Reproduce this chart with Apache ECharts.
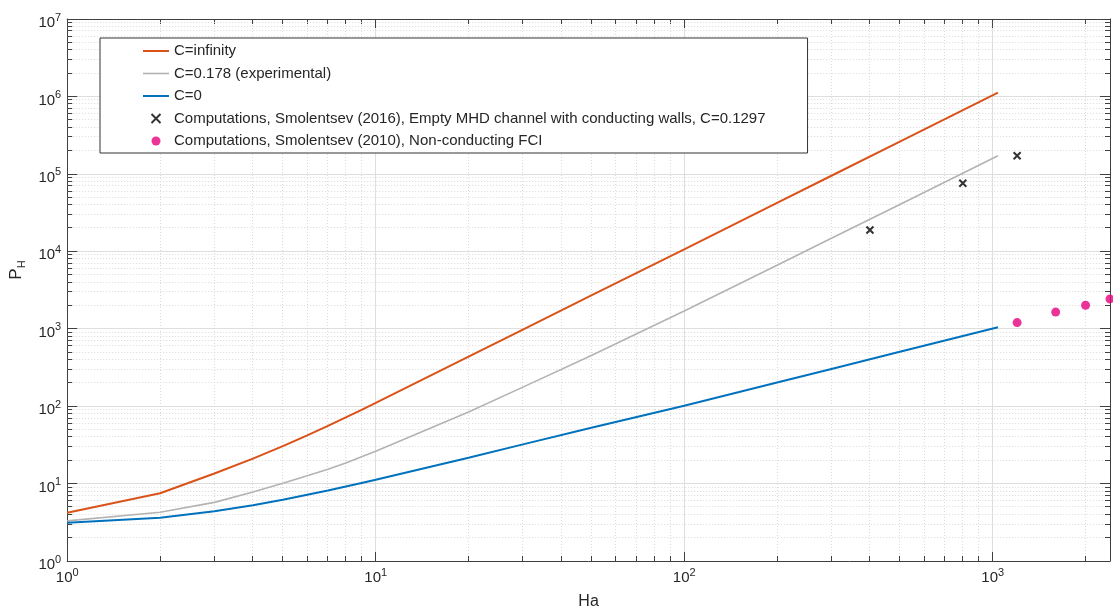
<!DOCTYPE html>
<html>
<head>
<meta charset="utf-8">
<script src="https://cdn.jsdelivr.net/npm/echarts@6/dist/echarts.min.js"></script>
<style>
  html, body { margin: 0; padding: 0; background: #ffffff; }
  #chart { width: 1113px; height: 615px; }
</style>
</head>
<body>
<div id="chart"></div>
<script>
// Hartmann number samples for the analytic curves
const haValues = [1, 2, 3, 4, 5, 6, 7, 8, 9, 10, 20, 30, 50, 100, 200, 300, 500, 1040];
// P_H for perfectly conducting walls
const pInfinity = [4.2, 7.5, 13.5, 21, 30.5, 42, 55.5, 71.5, 89.5, 110, 435, 975, 2700, 10600, 42200, 94500, 261000, 1120000];
// P_H for the experimental wall conductance ratio
const pExperimental = [3.3, 4.26, 5.72, 7.77, 10.1, 12.6, 15.3, 18.5, 22.2, 26.2, 84, 176, 450, 1690, 6600, 14700, 40300, 171000];
// P_H for insulating walls
const pInsulating = [3.12, 3.62, 4.39, 5.24, 6.19, 7.17, 8.14, 9.16, 10.2, 11.2, 21.5, 32.1, 52.5, 101, 202, 302, 503, 1042];

// Computations, empty channel with conducting walls
const haConducting = [400, 800, 1200];
const pConducting = [18800, 75700, 171000];

// Computations, non-conducting FCI
const haFci = [1200, 1600, 2000, 2400];
const pFci = [1200, 1640, 2010, 2420];

const seriesNames = [
  'C=infinity',
  'C=0.178 (experimental)',
  'C=0',
  'Computations, Smolentsev (2016), Empty MHD channel with conducting walls, C=0.1297',
  'Computations, Smolentsev (2010), Non-conducting FCI'
];

// Axis ranges
const xRange = [1, 2400];
const yRange = [1, 1e7];

// Minor tick positions (2..9 within each decade)
const xMinorTicks = [];
for (let d = 1; d <= 1000; d *= 10) {
  for (let m = 2; m <= 9; m++) {
    const v = m * d;
    if (v < xRange[1]) xMinorTicks.push(v);
  }
}
const yMinorTicks = [];
for (let d = 1; d < 1e7; d *= 10) {
  for (let m = 2; m <= 9; m++) yMinorTicks.push(m * d);
}

const FONT = '"Liberation Sans", Arial, Helvetica, sans-serif';
const TEXT = '#262626';
const AXIS = '#404040';
const GRID_MAJOR = '#dedede';
const GRID_MINOR = '#dadada';

const COLOR_INF = '#D95319';
const COLOR_EXP = '#B3B3B3';
const COLOR_INS = '#0072BD';

const zip = (xs, ys) => xs.map((x, i) => [x, ys[i]]);

function powerLabel(v) {
  const e = Math.round(Math.log10(v));
  if (Math.abs(v - Math.pow(10, e)) > 1e-6 * v) return '';
  return '{b|10}{s|' + e + '}';
}
const powerRich = {
  b: { fontFamily: FONT, fontSize: 15, color: TEXT, lineHeight: 22 },
  s: { fontFamily: FONT, fontSize: 11, color: TEXT, lineHeight: 11, verticalAlign: 'top' }
};

const snap = v => Math.round(v - 0.5) + 0.5;

function renderMinorX(params, api) {
  const cs = params.coordSys;
  const x = snap(api.coord([api.value(0), yRange[0]])[0]);
  const top = cs.y, bottom = cs.y + cs.height;
  return {
    type: 'group',
    children: [
      { type: 'line', shape: { x1: x, y1: top, x2: x, y2: bottom },
        style: { stroke: GRID_MINOR, lineWidth: 1, lineDash: [1, 2] } },
      { type: 'line', shape: { x1: x, y1: bottom, x2: x, y2: bottom - 5 },
        style: { stroke: AXIS, lineWidth: 1 } },
      { type: 'line', shape: { x1: x, y1: top, x2: x, y2: top + 5 },
        style: { stroke: AXIS, lineWidth: 1 } }
    ]
  };
}

function renderMinorY(params, api) {
  const cs = params.coordSys;
  const y = snap(api.coord([xRange[0], api.value(1)])[1]);
  const left = cs.x, right = cs.x + cs.width;
  return {
    type: 'group',
    children: [
      { type: 'line', shape: { x1: left, y1: y, x2: right, y2: y },
        style: { stroke: GRID_MINOR, lineWidth: 1, lineDash: [1, 2] } },
      { type: 'line', shape: { x1: left, y1: y, x2: left + 5, y2: y },
        style: { stroke: AXIS, lineWidth: 1 } },
      { type: 'line', shape: { x1: right, y1: y, x2: right - 5, y2: y },
        style: { stroke: AXIS, lineWidth: 1 } }
    ]
  };
}

const crossPath = 'path://M0,0L10,10M10,0L0,10';
// Plain line-sample icons for the curve entries of the legend
const lineIconThick = 'path://M0,0H26V2H0Z';
const lineIconThin = 'path://M0,0H26V1.6H0Z';

const option = {
  animation: false,
  backgroundColor: '#ffffff',
  grid: { left: 67, right: 0, top: 19, bottom: 48 },
  legend: {
    data: [
      { name: seriesNames[0], icon: lineIconThick, itemStyle: { color: COLOR_INF } },
      { name: seriesNames[1], icon: lineIconThin, itemStyle: { color: COLOR_EXP } },
      { name: seriesNames[2], icon: lineIconThick, itemStyle: { color: COLOR_INS } },
      { name: seriesNames[3] },
      { name: seriesNames[4] }
    ],
    orient: 'vertical',
    left: 100,
    top: 38,
    padding: [4, 42, 3, 43],
    itemWidth: 26,
    itemHeight: 9,
    itemGap: 4.5,
    backgroundColor: '#ffffff',
    borderColor: '#333333',
    borderWidth: 1,
    borderRadius: 0,
    selectedMode: false,
    textStyle: { fontFamily: FONT, fontSize: 15, color: TEXT, lineHeight: 18 }
  },
  xAxis: [
    {
      type: 'log', logBase: 10, min: xRange[0], max: xRange[1], interval: 1,
      position: 'bottom',
      name: 'Ha', nameLocation: 'middle', nameGap: 33,
      nameTextStyle: { fontFamily: FONT, fontSize: 16, color: TEXT },
      axisLine: { show: true, lineStyle: { color: AXIS, width: 1 } },
      axisTick: { show: true, inside: true, length: 9, lineStyle: { color: AXIS } },
      axisLabel: { margin: 6, formatter: powerLabel, rich: powerRich },
      splitLine: { show: true, lineStyle: { color: GRID_MAJOR, width: 1 } },
      minorTick: { show: false }
    },
    {
      type: 'log', logBase: 10, min: xRange[0], max: xRange[1], interval: 1,
      position: 'top',
      axisLine: { show: true, lineStyle: { color: AXIS, width: 1 } },
      axisTick: { show: true, inside: true, length: 9, lineStyle: { color: AXIS } },
      axisLabel: { show: false },
      splitLine: { show: false }
    }
  ],
  yAxis: [
    {
      type: 'log', logBase: 10, min: yRange[0], max: yRange[1], interval: 1,
      position: 'left',
      name: '{p|P}{h|H}', nameLocation: 'middle', nameGap: 33,
      nameTextStyle: {
        padding: [0, 0, 0, 40],
        rich: {
          p: { fontFamily: FONT, fontSize: 17, color: TEXT, lineHeight: 22 },
          h: { fontFamily: FONT, fontSize: 11, color: TEXT, lineHeight: 11, verticalAlign: 'bottom' }
        }
      },
      axisLine: { show: true, lineStyle: { color: AXIS, width: 1 } },
      axisTick: { show: true, inside: true, length: 10, lineStyle: { color: AXIS } },
      axisLabel: { margin: 6, padding: [8, 0, 0, 0], formatter: powerLabel, rich: powerRich },
      splitLine: { show: true, lineStyle: { color: GRID_MAJOR, width: 1 } }
    },
    {
      type: 'log', logBase: 10, min: yRange[0], max: yRange[1], interval: 1,
      position: 'right',
      axisLine: { show: true, lineStyle: { color: AXIS, width: 1 } },
      axisTick: { show: true, inside: true, length: 10, lineStyle: { color: AXIS } },
      axisLabel: { show: false },
      splitLine: { show: false }
    }
  ],
  series: [
    {
      name: 'minor-x', type: 'custom', silent: true, z: 1, clip: false,
      xAxisIndex: 0, yAxisIndex: 0,
      renderItem: renderMinorX,
      data: xMinorTicks.map(v => [v, yRange[0]])
    },
    {
      name: 'minor-y', type: 'custom', silent: true, z: 1, clip: false,
      xAxisIndex: 0, yAxisIndex: 0,
      renderItem: renderMinorY,
      data: yMinorTicks.map(v => [xRange[0], v])
    },
    {
      name: seriesNames[0], type: 'line', z: 3,
      data: zip(haValues, pInfinity),
      symbol: 'none', showSymbol: false,
      lineStyle: { color: COLOR_INF, width: 2 },
      itemStyle: { color: COLOR_INF }
    },
    {
      name: seriesNames[1], type: 'line', z: 3,
      data: zip(haValues, pExperimental),
      symbol: 'none', showSymbol: false,
      lineStyle: { color: COLOR_EXP, width: 1.6 },
      itemStyle: { color: COLOR_EXP }
    },
    {
      name: seriesNames[2], type: 'line', z: 3,
      data: zip(haValues, pInsulating),
      symbol: 'none', showSymbol: false,
      lineStyle: { color: COLOR_INS, width: 2 },
      itemStyle: { color: COLOR_INS }
    },
    {
      name: seriesNames[3], type: 'scatter', z: 4,
      data: zip(haConducting, pConducting),
      symbol: crossPath, symbolSize: 7,
      itemStyle: { color: '#000000', borderColor: '#000000', borderWidth: 2 }
    },
    {
      name: seriesNames[4], type: 'scatter', z: 4,
      data: zip(haFci, pFci),
      symbol: 'circle', symbolSize: 9,
      itemStyle: { color: '#E6007E' }
    }
  ]
};

const chart = echarts.init(document.getElementById('chart'), null, { renderer: 'canvas' });
chart.setOption(option);
</script>
</body>
</html>
